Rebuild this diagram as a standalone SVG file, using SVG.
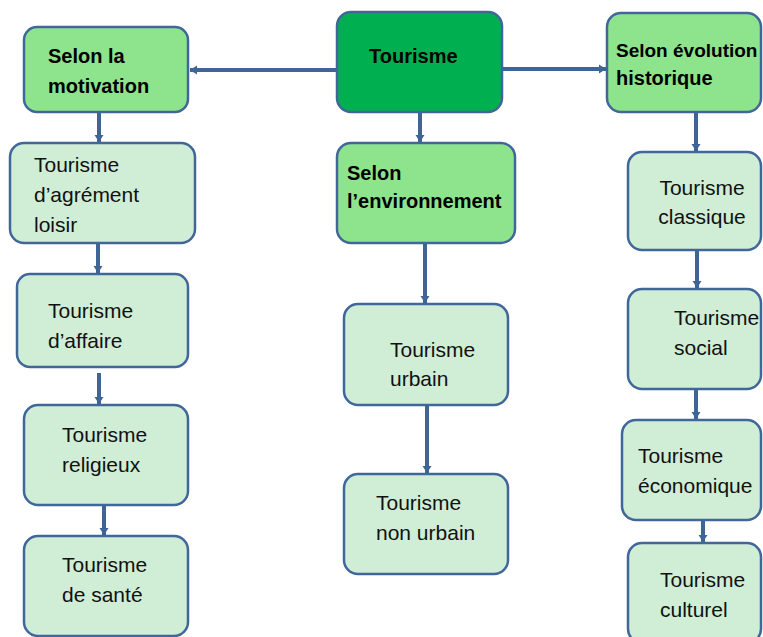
<svg xmlns="http://www.w3.org/2000/svg" width="763" height="637" viewBox="0 0 763 637">
<defs>
<style>
.box{stroke:#41679A;stroke-width:2.5}
.root{fill:#00B050}
.cat{fill:#8EE48C}
.leaf{fill:#D0EDD6}
.tb{font-family:"Liberation Sans",Arial,sans-serif;font-weight:bold;font-size:20px;fill:#000}
.t{font-family:"Liberation Sans",Arial,sans-serif;font-size:21px;fill:#111}
.c{stroke:#3F6496;stroke-width:4;fill:none;marker-end:url(#ah)}
</style>
<marker id="ah" markerUnits="userSpaceOnUse" markerWidth="9" markerHeight="10" refX="7" refY="5" orient="auto">
<path d="M0,0.5 L7,5 L0,9.5 z" fill="#3F6496"/>
</marker>
</defs>
<rect width="763" height="637" fill="#fff"/>
<g id="connectors">
<line class="c" x1="337" y1="70" x2="190" y2="70"/>
<line class="c" x1="502" y1="69" x2="606" y2="69"/>
<line class="c" x1="99" y1="112" x2="99" y2="142"/>
<line class="c" x1="420" y1="112" x2="420" y2="142"/>
<line class="c" x1="696" y1="112" x2="696" y2="151"/>
<line class="c" x1="98" y1="243" x2="98" y2="273"/>
<line class="c" x1="99" y1="373" x2="99" y2="404"/>
<line class="c" x1="104" y1="505" x2="104" y2="535"/>
<line class="c" x1="425" y1="243" x2="425" y2="303"/>
<line class="c" x1="427" y1="405" x2="427" y2="473"/>
<line class="c" x1="697" y1="250" x2="697" y2="288"/>
<line class="c" x1="696" y1="389" x2="696" y2="419"/>
<line class="c" x1="703" y1="520" x2="703" y2="542"/>
</g>
<g id="tourisme">
<rect class="box root" x="337" y="12" width="165" height="100" rx="14"/>
<text class="tb" x="369" y="63">Tourisme</text>
</g>
<g id="motivation">
<rect class="box cat" x="24" y="27" width="164" height="85" rx="13"/>
<text class="tb" x="48" y="63">Selon la</text>
<text class="tb" x="48" y="93">motivation</text>
</g>
<g id="environnement">
<rect class="box cat" x="337" y="143" width="178" height="100" rx="14"/>
<text class="tb" x="347" y="180">Selon</text>
<text class="tb" x="347" y="208">l’environnement</text>
</g>
<g id="evolution">
<rect class="box cat" x="607" y="13" width="154" height="99" rx="14"/>
<text class="tb" x="616" y="57" style="font-size:19px">Selon évolution</text>
<text class="tb" x="616" y="85">historique</text>
</g>
<g id="agrement">
<rect class="box leaf" x="10" y="143" width="185" height="100" rx="14"/>
<text class="t" x="34" y="172">Tourisme</text>
<text class="t" x="34" y="202">d’agrément</text>
<text class="t" x="34" y="232">loisir</text>
</g>
<g id="affaire">
<rect class="box leaf" x="17" y="274" width="171" height="93" rx="13"/>
<text class="t" x="48" y="318">Tourisme</text>
<text class="t" x="48" y="348">d’affaire</text>
</g>
<g id="religieux">
<rect class="box leaf" x="24" y="405" width="164" height="100" rx="14"/>
<text class="t" x="62" y="442">Tourisme</text>
<text class="t" x="62" y="472">religieux</text>
</g>
<g id="sante">
<rect class="box leaf" x="24" y="536" width="164" height="100" rx="14"/>
<text class="t" x="62" y="572">Tourisme</text>
<text class="t" x="62" y="602">de santé</text>
</g>
<g id="urbain">
<rect class="box leaf" x="344" y="304" width="164" height="101" rx="14"/>
<text class="t" x="390" y="357">Tourisme</text>
<text class="t" x="390" y="386">urbain</text>
</g>
<g id="nonurbain">
<rect class="box leaf" x="344" y="474" width="164" height="100" rx="14"/>
<text class="t" x="376" y="510">Tourisme</text>
<text class="t" x="376" y="540">non urbain</text>
</g>
<g id="classique">
<rect class="box leaf" x="628" y="152" width="133" height="98" rx="14"/>
<text class="t" x="702" y="195" text-anchor="middle">Tourisme</text>
<text class="t" x="702" y="224" text-anchor="middle">classique</text>
</g>
<g id="social">
<rect class="box leaf" x="628" y="289" width="133" height="100" rx="14"/>
<text class="t" x="674" y="325">Tourisme</text>
<text class="t" x="674" y="355">social</text>
</g>
<g id="economique">
<rect class="box leaf" x="622" y="420" width="139" height="100" rx="14"/>
<text class="t" x="638" y="463">Tourisme</text>
<text class="t" x="638" y="493">économique</text>
</g>
<g id="culturel">
<rect class="box leaf" x="628" y="543" width="133" height="100" rx="14"/>
<text class="t" x="660" y="587">Tourisme</text>
<text class="t" x="660" y="617">culturel</text>
</g>
</svg>
